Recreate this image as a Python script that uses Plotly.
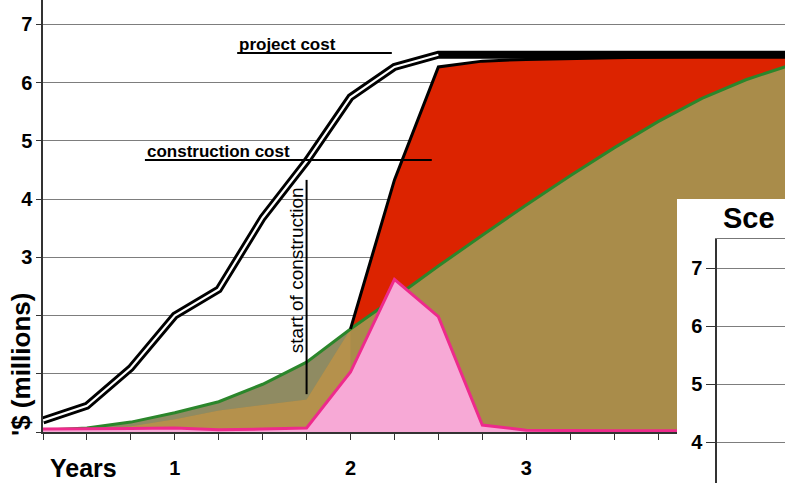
import plotly.graph_objects as go

# ---------------- data (x = quarter index, y = $ millions) ----------------
quarters = list(range(18))
year_tick_vals = [3, 7, 11]
year_tick_text = ["1", "2", "3"]
y_tick_vals = [0, 1, 2, 3, 4, 5, 6, 7]
y_tick_text = ["", "", "", "3", "4", "5", "6", "7"]

project_cost = [0.2, 0.45, 1.1, 2.0, 2.45, 3.68, 4.65, 5.75, 6.27, 6.48,
                6.48, 6.48, 6.48, 6.48, 6.48, 6.48, 6.48, 6.48]
project_cost_inner_end = 10          # white centre of the double line stops here

construction_quarters = quarters[7:]
construction_cost = [1.77, 4.33, 6.27, 6.37, 6.40, 6.42, 6.43, 6.44, 6.45, 6.46, 6.47]

cumulative_spend = [0.03, 0.07, 0.17, 0.33, 0.52, 0.82, 1.2, 1.77, 2.3, 2.85,
                    3.38, 3.9, 4.4, 4.88, 5.33, 5.73, 6.05, 6.3]

design_quarters = quarters[:8]
design_lower = [0.03, 0.05, 0.1, 0.22, 0.37, 0.46, 0.56, 1.77]

quarterly_spend = [0.05, 0.05, 0.06, 0.07, 0.04, 0.05, 0.07, 1.03, 2.62, 1.98,
                   0.12, 0.03, 0.02, 0.02, 0.02, 0.02, 0.02, 0.02]

inset_tick_vals = [4, 5, 6, 7]
inset_title = "Sce"

# ---------------- styles ----------------
FONT = "Liberation Sans, Arial, sans-serif"
RED = "#dc2300"
TAN = "#a98c4a"
TAN_LIGHT = "#b5914c"
OLIVE = "#8f8b62"
GREEN = "#2b862b"
PINK_FILL = "#f7a9d6"
PINK_LINE = "#ee2a8c"
GRID = "#7d7d7d"
AX = "#333333"

fig = go.Figure()

# red: construction cost area
fig.add_trace(go.Scatter(x=construction_quarters, y=construction_cost, mode="lines",
                         line=dict(width=0), fill="tozeroy", fillcolor=RED, hoverinfo="skip"))
# tan: cumulative spend area
fig.add_trace(go.Scatter(x=quarters, y=cumulative_spend, mode="lines",
                         line=dict(width=0), fill="tozeroy", fillcolor=TAN, hoverinfo="skip"))
# lighter band beneath design area
fig.add_trace(go.Scatter(x=design_quarters, y=quarterly_spend[:8], mode="lines",
                         line=dict(width=0), hoverinfo="skip"))
fig.add_trace(go.Scatter(x=design_quarters, y=design_lower, mode="lines",
                         line=dict(width=0), fill="tonexty", fillcolor=TAN_LIGHT, hoverinfo="skip"))
# olive: design spend area
fig.add_trace(go.Scatter(x=design_quarters, y=design_lower, mode="lines",
                         line=dict(width=0), hoverinfo="skip"))
fig.add_trace(go.Scatter(x=design_quarters, y=cumulative_spend[:8], mode="lines",
                         line=dict(width=0), fill="tonexty", fillcolor=OLIVE, hoverinfo="skip"))
# green cumulative line
fig.add_trace(go.Scatter(x=quarters, y=cumulative_spend, mode="lines",
                         line=dict(color=GREEN, width=3), hoverinfo="skip"))
# construction cost line
fig.add_trace(go.Scatter(x=construction_quarters, y=construction_cost, mode="lines",
                         line=dict(color="black", width=3), hoverinfo="skip"))
# pink quarterly spend
fig.add_trace(go.Scatter(x=quarters, y=quarterly_spend, mode="lines",
                         line=dict(color=PINK_LINE, width=3), fill="tozeroy",
                         fillcolor=PINK_FILL, hoverinfo="skip"))
# project cost double line
fig.add_trace(go.Scatter(x=quarters, y=project_cost, mode="lines",
                         line=dict(color="black", width=8), hoverinfo="skip"))
fig.add_trace(go.Scatter(x=quarters[:project_cost_inner_end],
                         y=project_cost[:project_cost_inner_end], mode="lines",
                         line=dict(color="white", width=2.2), hoverinfo="skip"))

# inset subplots (white panel + axes)
fig.add_trace(go.Scatter(x=[], y=[], xaxis="x2", yaxis="y2", hoverinfo="skip"))
fig.add_trace(go.Scatter(x=[], y=[], xaxis="x3", yaxis="y3", hoverinfo="skip"))

# ---------------- annotation lines ----------------
fig.add_shape(type="line", xref="x", yref="y", x0=4.42, x1=7.94, y0=6.51, y1=6.51,
              line=dict(color="black", width=2))
fig.add_shape(type="line", xref="x", yref="y", x0=2.32, x1=8.85, y0=4.67, y1=4.67,
              line=dict(color="black", width=2))
fig.add_shape(type="line", xref="x", yref="y", x0=6.0, x1=6.0, y0=0.65, y1=4.33,
              line=dict(color="black", width=2))

bold = dict(family=FONT, size=17, color="black", weight="bold")
fig.add_annotation(x=4.42, y=6.65, xref="x", yref="y", text="project cost", showarrow=False,
                   xanchor="left", yanchor="middle", font=bold)
fig.add_annotation(x=2.32, y=4.81, xref="x", yref="y", text="construction cost", showarrow=False,
                   xanchor="left", yanchor="middle", font=bold)
fig.add_annotation(x=5.76, y=2.78, xref="x", yref="y", text="start of construction", showarrow=False,
                   textangle=-90, xanchor="center", yanchor="middle",
                   font=dict(family=FONT, size=19, color="black"))
fig.add_annotation(x=83 / 785, y=(483 - 468) / 483, xref="paper", yref="paper", text="Years",
                   showarrow=False, xanchor="center", yanchor="middle",
                   font=dict(family=FONT, size=25, color="black", weight="bold"))
fig.add_annotation(x=21 / 785, y=(483 - 365) / 483, xref="paper", yref="paper", text="'$ (millions)",
                   showarrow=False, textangle=-90, xanchor="center", yanchor="middle",
                   font=dict(family=FONT, size=26, color="black", weight="bold"))
fig.add_annotation(x=721 / 785, y=(483 - 218) / 483, xref="paper", yref="paper", text=inset_title,
                   showarrow=False, xanchor="left", yanchor="middle",
                   font=dict(family=FONT, size=29, color="black", weight="bold"))

tickfont = dict(family=FONT, size=20, color="black", weight="bold")
fig.update_layout(
    width=785, height=483,
    margin=dict(l=0, r=0, t=0, b=0, autoexpand=False),
    paper_bgcolor="white", plot_bgcolor="white",
    showlegend=False,
    xaxis=dict(domain=[43 / 785, 1], range=[0, 16.89], tickmode="array",
               tickvals=quarters,
               ticktext=[year_tick_text[year_tick_vals.index(q)] if q in year_tick_vals else ""
                         for q in quarters],
               ticks="outside", ticklen=6, tickcolor=AX, tickwidth=1,
               showgrid=False, zeroline=False, showline=True, linecolor=AX, linewidth=1.5,
               tickfont=dict(family=FONT, size=20, color="black", weight="bold"),
               ticklabelstandoff=11, automargin=False),
    yaxis=dict(domain=[51 / 483, 1], range=[0, 7.42], tickmode="array",
               tickvals=y_tick_vals, ticktext=y_tick_text,
               ticks="outside", ticklen=5, tickcolor=AX,
               showgrid=True, gridcolor=GRID, gridwidth=1, zeroline=False,
               showline=True, linecolor=AX, linewidth=1.5, tickfont=tickfont, automargin=False),
    xaxis2=dict(domain=[677 / 785, 1], anchor="y2", range=[0, 1], visible=False),
    yaxis2=dict(domain=[0, 284 / 483], anchor="x2", range=[0, 1], visible=False),
    xaxis3=dict(domain=[717 / 785, 1], anchor="y3", range=[0, 1], side="top",
                showline=True, linecolor="#777777", linewidth=1, showticklabels=False,
                ticks="", showgrid=False, zeroline=False, automargin=False),
    yaxis3=dict(domain=[0, 244 / 483], anchor="x3", range=[3.30, 7.5], tickmode="array",
                tickvals=inset_tick_vals, ticks="outside", ticklen=9, tickcolor=AX,
                showgrid=True, gridcolor=GRID, gridwidth=1, zeroline=False,
                showline=True, linecolor=AX, linewidth=1.5, tickfont=tickfont, automargin=False),
)

fig.write_html("out.html", config={"displayModeBar": False},
               post_script="document.body.style.margin='0';")
